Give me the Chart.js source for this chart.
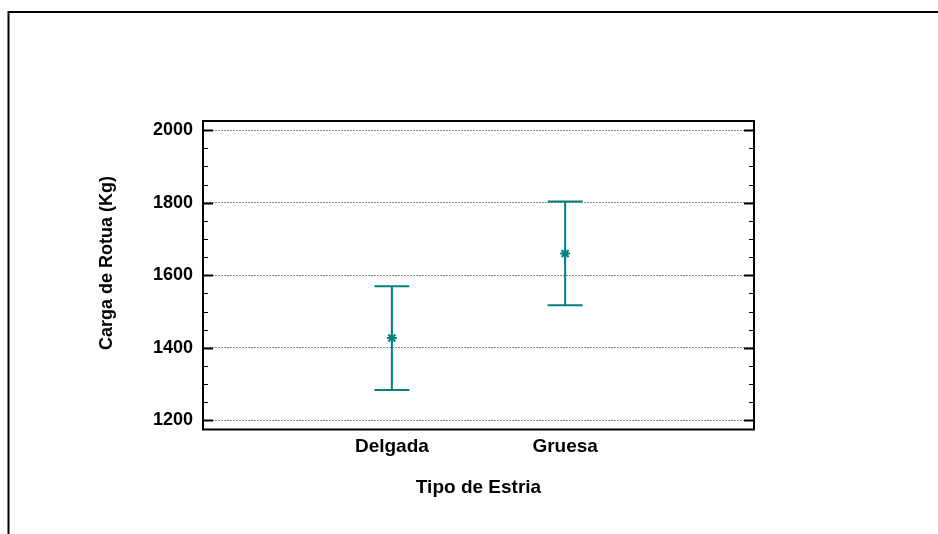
<!DOCTYPE html>
<html>
<head>
<meta charset="utf-8">
<script src="https://cdn.jsdelivr.net/npm/chart.js@4/dist/chart.umd.min.js"></script>
<style>
  html, body { margin: 0; padding: 0; background: #ffffff; }
  #wrap { width: 938px; height: 534px; position: relative; }
</style>
</head>
<body>
<div id="wrap"><canvas id="chart" width="938" height="534"></canvas></div>
<script>
// Grupos (tipo de estría) y resumen de la carga de rotura
const categories = ['Delgada', 'Gruesa'];
const means = [1427, 1660];
const lower = [1284, 1517];
const upper = [1570, 1803];
const yTicks = [1200, 1400, 1600, 1800, 2000];
const yMinorStep = 50;
const yTitle = 'Carga de Rotua (Kg)';

const teal = '#008080';
const fontFamily = '"Liberation Sans", Arial, Helvetica, sans-serif';

// Outer frame of the figure (top and left edges) and the vertical axis title
const framePlugin = {
  id: 'frame',
  beforeDraw(chart) {
    const ctx = chart.ctx;
    ctx.save();
    ctx.fillStyle = '#ffffff';
    ctx.fillRect(0, 0, chart.width, chart.height);
    ctx.strokeStyle = '#000000';
    ctx.lineWidth = 2;
    ctx.beginPath();
    ctx.moveTo(8.5, chart.height);
    ctx.lineTo(8.5, 12);
    ctx.lineTo(chart.width, 12);
    ctx.stroke();

    ctx.translate(107, 263);
    ctx.rotate(-Math.PI / 2);
    ctx.fillStyle = '#000000';
    ctx.font = 'bold 18px ' + fontFamily;
    ctx.textAlign = 'center';
    ctx.textBaseline = 'middle';
    ctx.fillText(yTitle, 0, 0);
    ctx.restore();
  }
};

// Plot box with inward major/minor ticks on both vertical sides
const boxPlugin = {
  id: 'box',
  afterDatasetsDraw(chart) {
    const ctx = chart.ctx;
    const a = chart.chartArea;
    const y = chart.scales.y;
    ctx.save();
    ctx.strokeStyle = '#000000';
    const lo = Math.ceil(y.min / yMinorStep) * yMinorStep;
    for (let v = lo; v <= y.max; v += yMinorStep) {
      const p = Math.round(y.getPixelForValue(v)) + 0.5;
      const major = yTicks.includes(v);
      const len = major ? 10 : 5;
      ctx.lineWidth = major ? 2 : 1;
      ctx.beginPath();
      ctx.moveTo(a.left, p); ctx.lineTo(a.left + len, p);
      ctx.moveTo(a.right, p); ctx.lineTo(a.right - len, p);
      ctx.stroke();
    }
    ctx.lineWidth = 2;
    ctx.strokeRect(a.left, a.top, a.right - a.left, a.bottom - a.top);
    ctx.restore();
  }
};

// Interval bars drawn from the lower/upper arrays through the scales
const intervalPlugin = {
  id: 'intervals',
  beforeDatasetsDraw(chart) {
    const ctx = chart.ctx;
    const xs = chart.scales.x, ys = chart.scales.y;
    ctx.save();
    ctx.strokeStyle = teal;
    ctx.lineWidth = 2;
    const cap = 17.5;
    categories.forEach((c, i) => {
      const x = xs.getPixelForValue(i + 1);
      const yl = ys.getPixelForValue(lower[i]);
      const yu = ys.getPixelForValue(upper[i]);
      ctx.beginPath();
      ctx.moveTo(x, yu); ctx.lineTo(x, yl);
      ctx.moveTo(x - cap, yu); ctx.lineTo(x + cap, yu);
      ctx.moveTo(x - cap, yl); ctx.lineTo(x + cap, yl);
      ctx.stroke();
    });
    ctx.restore();
  }
};

new Chart(document.getElementById('chart'), {
  type: 'scatter',
  data: {
    datasets: [{
      label: 'Media',
      data: means.map((m, i) => ({ x: i + 1, y: m })),
      pointStyle: 'star',
      pointRadius: 5,
      pointBorderWidth: 2,
      borderColor: teal,
      backgroundColor: teal,
      pointHoverRadius: 5
    }]
  },
  options: {
    responsive: false,
    animation: false,
    layout: { padding: { left: 97, right: 184, top: 121, bottom: 34.5 } },
    plugins: {
      legend: { display: false },
      tooltip: { enabled: false }
    },
    scales: {
      x: {
        type: 'linear',
        min: -0.09,
        max: 3.09,
        afterBuildTicks(scale) { scale.ticks = categories.map((c, i) => ({ value: i + 1 })); },
        afterFit(scale) { scale.height = 70; },
        grid: { display: false, drawTicks: false },
        border: { display: false },
        ticks: {
          padding: 6,
          color: '#000000',
          font: { family: fontFamily, size: 19, weight: 'bold' },
          callback: (v) => categories[v - 1] || ''
        },
        title: {
          display: true,
          text: 'Tipo de Estria',
          color: '#000000',
          padding: 0,
          font: { family: fontFamily, size: 19, weight: 'bold' }
        }
      },
      y: {
        min: 1175,
        max: 2025,
        afterBuildTicks(scale) { scale.ticks = yTicks.map(v => ({ value: v })); },
        afterFit(scale) { scale.width = 106; },
        grid: {
          drawTicks: false,
          color: '#8a8a8a',
          lineWidth: 1
        },
        border: { display: false, dash: [2, 1] },
        ticks: {
          padding: 10,
          color: '#000000',
          font: { family: fontFamily, size: 18, weight: 'bold' },
          callback: (v) => String(v)
        }
      }
    }
  },
  plugins: [framePlugin, intervalPlugin, boxPlugin]
});
</script>
</body>
</html>
